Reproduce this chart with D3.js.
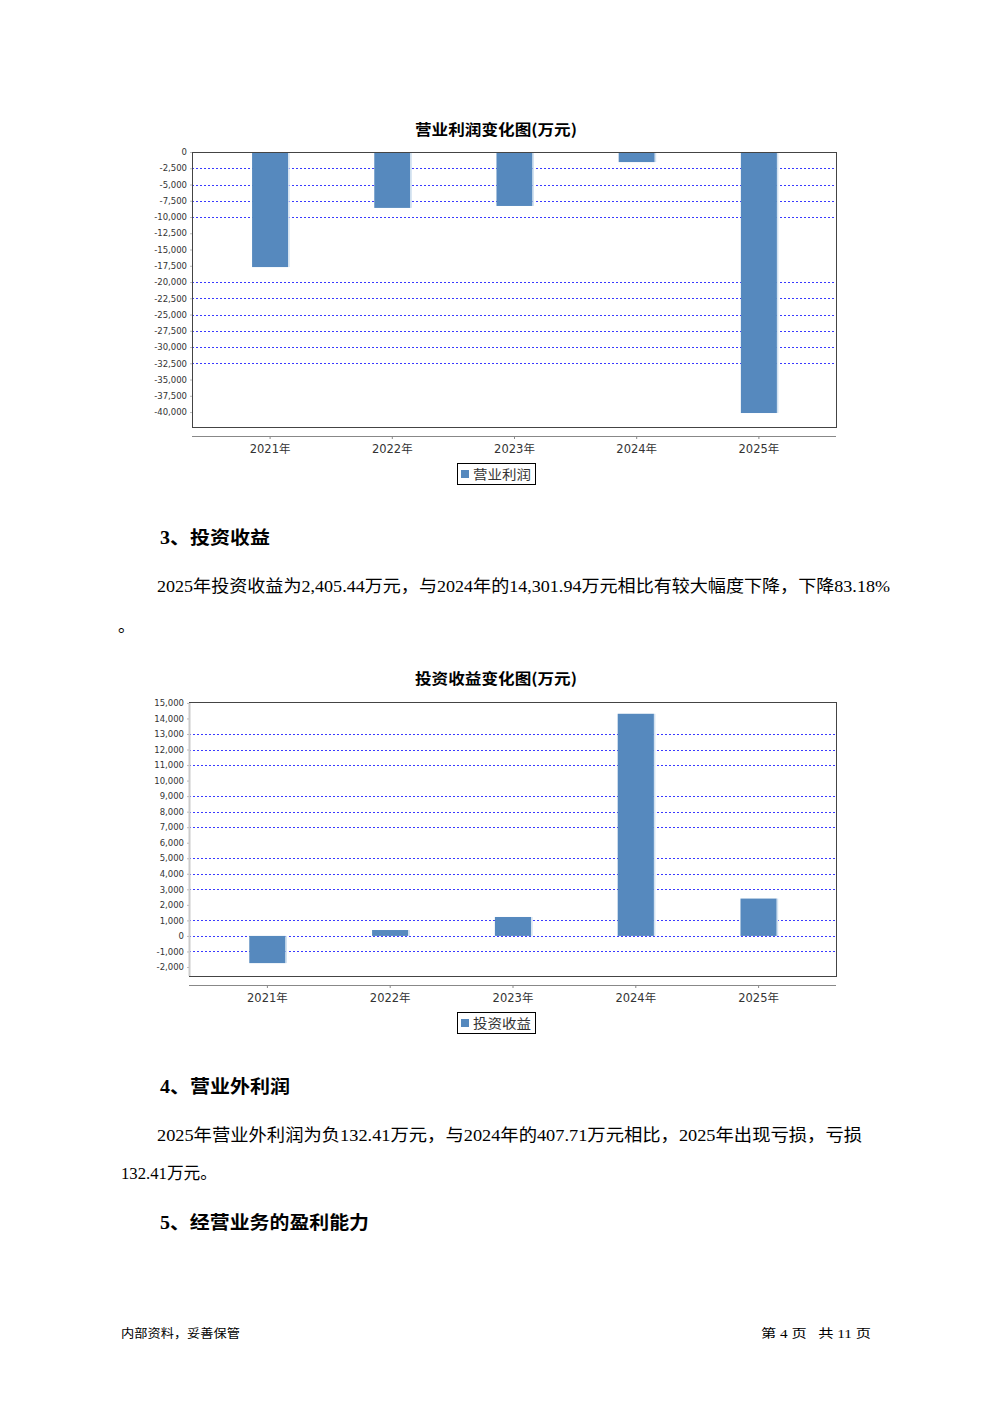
<!DOCTYPE html>
<html><head><meta charset="utf-8">
<script src="https://cdn.jsdelivr.net/npm/d3@7/dist/d3.min.js"></script>
<style>html,body{margin:0;padding:0;background:#fff}svg{display:block}</style>
</head><body>
<svg id="page" width="992" height="1403"></svg>
<script>
// ---------- data ----------
const years = ["2021年","2022年","2023年","2024年","2025年"];
const opProfit = [-17700, -8600, -8300, -1550, -40150];
const opTicks = [0,-2500,-5000,-7500,-10000,-12500,-15000,-17500,-20000,-22500,-25000,-27500,-30000,-32500,-35000,-37500,-40000];
const opGrid = [-2500,-5000,-7500,-10000,-20000,-22500,-25000,-27500,-30000,-32500];
const invIncome = [-1750, 380, 1220, 14301.94, 2405.44];
const invTicks = [15000,14000,13000,12000,11000,10000,9000,8000,7000,6000,5000,4000,3000,2000,1000,0,-1000,-2000];
const invGrid = [13000,12000,11000,9000,8000,7000,5000,4000,3000,1000,0,-1000];

const svg = d3.select("#page");
const BAR = "#5689be";
const CJK = "'Noto Sans CJK SC','Noto Sans',sans-serif";
const SERIF = "'Liberation Serif','Noto Sans CJK SC',serif";
const fmt = v => d3.format(",")(v).replace("\u2212","-");

function chart(cfg){
  const g = svg.append("g");
  const y = d3.scaleLinear().domain(cfg.domain).range([cfg.y1, cfg.y0]);
  const x = d3.scaleBand().domain(years).range(cfg.band).paddingInner(0.705).paddingOuter(0.3525);
  // title
  g.append("text").attr("x",496).attr("y",cfg.titleY).attr("text-anchor","middle")
    .attr("font-family",CJK).attr("font-weight",700).attr("font-size",15)
    .attr("textLength",162).attr("lengthAdjust","spacingAndGlyphs").text(cfg.title);
  // plot background
  g.append("rect").attr("x",cfg.x0).attr("y",cfg.y0).attr("width",cfg.x1-cfg.x0).attr("height",cfg.y1-cfg.y0).attr("fill","#fff");
  // gridlines
  g.selectAll(".grid").data(cfg.grid).join("line")
    .attr("x1",cfg.x0).attr("x2",cfg.x1).attr("y1",d=>Math.round(y(d))+0.5).attr("y2",d=>Math.round(y(d))+0.5)
    .attr("stroke","#3a3aff").attr("stroke-width",1).attr("stroke-dasharray","2,2");
  // bars
  g.selectAll(".bar").data(cfg.values).join("rect")
    .attr("x",(d,i)=>x(years[i])).attr("width",x.bandwidth())
    .attr("y",d=>y(Math.max(0,d))).attr("height",d=>Math.abs(y(d)-y(0)))
    .attr("fill",BAR);
  g.selectAll(".barEdge").data(cfg.values).join("rect")
    .attr("x",(d,i)=>x(years[i])+x.bandwidth()).attr("width",1.5)
    .attr("y",d=>y(Math.max(0,d))).attr("height",d=>Math.abs(y(d)-y(0)))
    .attr("fill","#d3e2f1");
  // border
  g.append("rect").attr("x",cfg.x0+0.5).attr("y",cfg.y0+0.5).attr("width",cfg.x1-cfg.x0).attr("height",cfg.y1-cfg.y0)
    .attr("fill","none").attr("stroke","#444").attr("stroke-width",1);
  if(cfg.leftGray){
    g.append("line").attr("x1",cfg.x0+0.5).attr("x2",cfg.x0+0.5).attr("y1",cfg.y0+1).attr("y2",cfg.y1)
      .attr("stroke","#ccc").attr("stroke-width",2);
  }
  // y axis
  const ya = g.append("g").attr("transform",`translate(${cfg.x0},0)`)
    .call(d3.axisLeft(y).tickValues(cfg.ticks).tickFormat(fmt).tickSize(2).tickPadding(3));
  ya.select(".domain").remove();
  ya.selectAll(".tick line").attr("stroke","#bbb");
  ya.selectAll(".tick text").attr("font-family","'DejaVu Sans',sans-serif").attr("font-size",8.5).attr("fill","#333");
  // x axis
  g.append("line").attr("x1",cfg.x0).attr("x2",cfg.x1).attr("y1",cfg.axisY+0.5).attr("y2",cfg.axisY+0.5)
    .attr("stroke","#888").attr("stroke-width",1.2);
  const xa = g.append("g").attr("transform",`translate(0,${cfg.axisY})`)
    .call(d3.axisBottom(x).tickSize(3).tickPadding(6));
  xa.select(".domain").remove();
  xa.selectAll(".tick line").attr("stroke","#888");
  xa.selectAll(".tick text").attr("font-family","'DejaVu Sans','Noto Sans CJK SC',sans-serif").attr("font-size",11.5).attr("fill","#333");
  // legend
  const ly = cfg.legendY;
  g.append("rect").attr("x",457.5).attr("y",ly+0.5).attr("width",78).attr("height",21).attr("fill","#fff").attr("stroke","#000");
  g.append("rect").attr("x",461).attr("y",ly+7).attr("width",8).attr("height",8).attr("fill",BAR);
  g.append("text").attr("x",473).attr("y",ly+16).attr("font-family",CJK).attr("font-size",13).attr("fill","#333")
    .attr("textLength",58).attr("lengthAdjust","spacingAndGlyphs").text(cfg.legend);
}

chart({title:"营业利润变化图(万元)", titleY:135, x0:192, x1:836, y0:152, y1:427,
  domain:[-42300,0], band:[209,820], values:opProfit, ticks:opTicks, grid:opGrid,
  axisY:436, legendY:463, legend:"营业利润", leftGray:false});
chart({title:"投资收益变化图(万元)", titleY:684, x0:189, x1:836, y0:702, y1:976,
  domain:[-2580,15060], band:[206,820], values:invIncome, ticks:invTicks, grid:invGrid,
  axisY:985, legendY:1012, legend:"投资收益", leftGray:true});

// ---------- text ----------
function txt(x,yy,s,opt){
  const t = svg.append("text").attr("x",x).attr("y",yy).text(s)
    .attr("font-family",opt.family||SERIF).attr("font-size",opt.size||17)
    .attr("font-weight",opt.weight||400).attr("fill","#000").style("white-space","pre");
  if(opt.len) t.attr("textLength",opt.len).attr("lengthAdjust","spacingAndGlyphs");
  if(opt.anchor) t.attr("text-anchor",opt.anchor);
}
const HEAD = "'Liberation Serif','Noto Sans CJK SC',serif";
txt(160,544,"3、投资收益",{family:HEAD,weight:700,size:18,len:110});
txt(157,592,"2025年投资收益为2,405.44万元，与2024年的14,301.94万元相比有较大幅度下降，下降83.18%",{len:733});
txt(118,632,"。",{});
txt(160,1093,"4、营业外利润",{family:HEAD,weight:700,size:18,len:130});
txt(157,1141,"2025年营业外利润为负132.41万元，与2024年的407.71万元相比，2025年出现亏损，亏损",{len:705});
txt(121,1179,"132.41万元。",{len:96});
txt(160,1229,"5、经营业务的盈利能力",{family:HEAD,weight:700,size:18,len:209});
txt(121,1338,"内部资料，妥善保管",{size:12,len:119});
txt(871,1338,"第 4 页   共 11 页",{size:12,anchor:"end",len:110});
</script>
</body></html>
